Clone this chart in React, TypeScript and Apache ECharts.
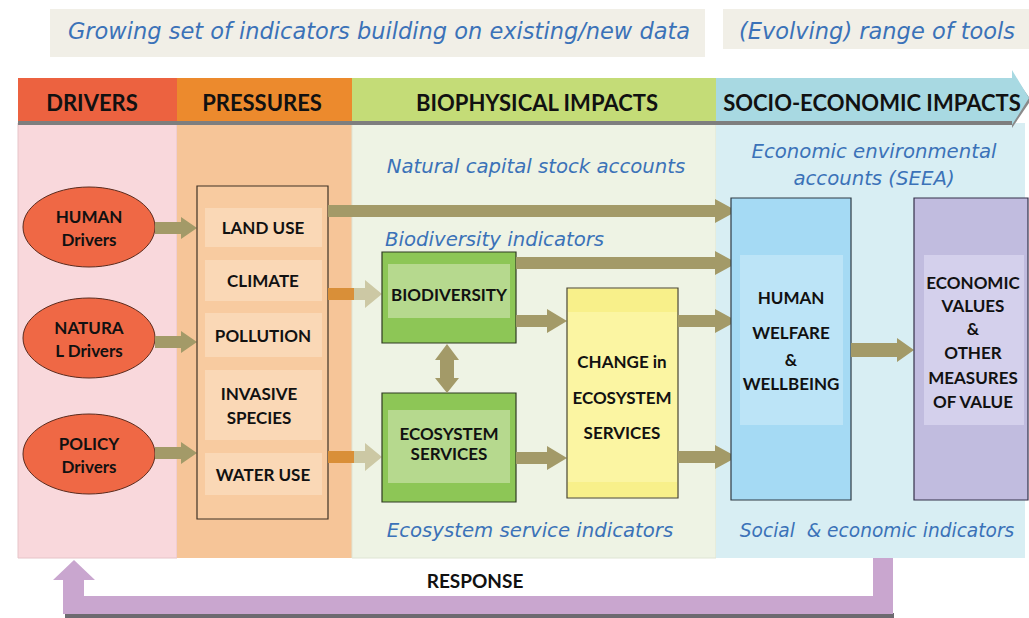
import React, { useEffect, useRef } from "react";
import * as echarts from "echarts";

const bannerTexts = ["Growing set of indicators building on existing/new data", "(Evolving) range of tools"];
const columnHeaders = ["DRIVERS", "PRESSURES", "BIOPHYSICAL IMPACTS", "SOCIO-ECONOMIC IMPACTS"];
const driverLabels = [["HUMAN", "Drivers"], ["NATURA", "L Drivers"], ["POLICY", "Drivers"]];
const pressureLabels = [["LAND USE"], ["CLIMATE"], ["POLLUTION"], ["INVASIVE", "SPECIES"], ["WATER USE"]];
const bioLabels = [["BIODIVERSITY"], ["ECOSYSTEM", "SERVICES"]];
const changeLabel = ["CHANGE in", "ECOSYSTEM", "SERVICES"];
const welfareLabel = ["HUMAN", "WELFARE", "&", "WELLBEING"];
const valueLabel = ["ECONOMIC", "VALUES", "&", "OTHER", "MEASURES", "OF VALUE"];
const indicatorLabels = [
  "Natural capital stock accounts",
  "Biodiversity indicators",
  "Economic environmental",
  "accounts (SEEA)",
  "Ecosystem service indicators",
  "Social  & economic indicators",
];
const responseLabel = "RESPONSE";

const FONT = "Lato, 'Open Sans', sans-serif";
const IFONT = "'DejaVu Sans', sans-serif";
const BLUE = "#3b72b8";
const OLIVE = "#a39a68";

function hArrow(x1: number, x2: number, y: number, h: number, head: number, H: number, fill: string) {
  return {
    type: "polygon",
    shape: {
      points: [
        [x1, y - h], [x2 - head, y - h], [x2 - head, y - H], [x2, y],
        [x2 - head, y + H], [x2 - head, y + h], [x1, y + h],
      ],
    },
    style: { fill },
  };
}

function txt(x: number, y: number, text: string, size: number, opts: any = {}) {
  return {
    type: "text",
    x, y,
    style: {
      text,
      fill: opts.fill || "#111",
      font: `${opts.italic ? "italic " : ""}${opts.bold === false ? "normal" : "bold"} ${size}px ${opts.italic ? IFONT : FONT}`,
      textAlign: opts.align || "center",
      textVerticalAlign: "middle",
    },
  };
}

function itxt(x: number, y: number, text: string, size: number, align = "center") {
  return txt(x, y, text, size, { italic: true, bold: false, fill: BLUE, align });
}

function lines(cx: number, ys: number[], arr: string[], size: number) {
  return arr.map((t, i) => txt(cx, ys[i], t, size));
}

export default function App() {
  const ref = useRef<HTMLDivElement>(null);
  useEffect(() => {
    const chart = echarts.init(ref.current!, null, { renderer: "svg" });
    const g: any[] = [];
    // banners
    g.push({ type: "rect", shape: { x: 50, y: 9, width: 655, height: 48 }, style: { fill: "#f1efe7" } });
    g.push({ type: "rect", shape: { x: 723, y: 9, width: 306, height: 40 }, style: { fill: "#f1efe7" } });
    g.push(itxt(379, 31, bannerTexts[0], 22.5));
    g.push(itxt(877, 31, bannerTexts[1], 22.5));

    // column bodies
    g.push({ type: "rect", shape: { x: 18, y: 123, width: 159, height: 435 }, style: { fill: "#f9d8dc", stroke: "#e6c4c8", lineWidth: 1 } });
    g.push({ type: "rect", shape: { x: 177, y: 123, width: 175, height: 435 }, style: { fill: "#f6c598" } });
    g.push({ type: "rect", shape: { x: 352, y: 123, width: 364, height: 435 }, style: { fill: "#eef3e4", stroke: "#dfe4d4", lineWidth: 1 } });
    g.push({ type: "rect", shape: { x: 716, y: 123, width: 309, height: 435 }, style: { fill: "#d8eef3" } });

    // header shadow
    g.push({ type: "polygon", shape: { points: [[18, 120], [1012, 120], [1012, 125], [18, 125]] }, style: { fill: "#7e7e7e" } });
    g.push({ type: "polygon", shape: { points: [[1012, 73], [1031, 100], [1012, 128]] }, style: { fill: "#8a8a8a" } });
    // header band
    g.push({ type: "rect", shape: { x: 18, y: 78, width: 159, height: 43 }, style: { fill: "#ec6240" } });
    g.push({ type: "rect", shape: { x: 177, y: 78, width: 175, height: 43 }, style: { fill: "#ec8a2d" } });
    g.push({ type: "rect", shape: { x: 352, y: 78, width: 364, height: 43 }, style: { fill: "#c4dc77" } });
    g.push({ type: "polygon", shape: { points: [[716, 78], [1012, 78], [1012, 70], [1029, 98], [1012, 125], [1012, 121], [716, 121]] }, style: { fill: "#a8d9e2" } });
    g.push(txt(92, 102, columnHeaders[0], 22));
    g.push(txt(262, 102, columnHeaders[1], 22));
    g.push(txt(537, 102, columnHeaders[2], 22));
    g.push(txt(872, 102, columnHeaders[3], 22));

    // drivers ellipses
    const ellY = [227, 338, 454];
    driverLabels.forEach((lab, i) => {
      g.push({ type: "ellipse", shape: { cx: 89, cy: ellY[i], rx: 66, ry: 40 }, style: { fill: "#ef6845", stroke: "#5b2b1e", lineWidth: 1 } });
      g.push(txt(89, ellY[i] - 11, lab[0], 17));
      g.push(txt(89, ellY[i] + 12, lab[1], 17));
    });
    const drvArrowY = [228, 342, 453];
    drvArrowY.forEach((y) => g.push(hArrow(155, 197, y, 6, 16, 11, OLIVE)));

    // pressures box
    g.push({ type: "rect", shape: { x: 197, y: 186, width: 131, height: 333 }, style: { fill: "#f8cba0", stroke: "#3f3225", lineWidth: 1.2 } });
    const cells = [[208, 247], [260, 301], [313, 357], [370, 440], [453, 495]];
    cells.forEach((c, i) => {
      g.push({ type: "rect", shape: { x: 205, y: c[0], width: 117, height: c[1] - c[0] }, style: { fill: "#fad8b6" } });
      const cy = (c[0] + c[1]) / 2;
      const lab = pressureLabels[i];
      if (lab.length === 1) g.push(txt(263, cy, lab[0], 17));
      else { g.push(txt(259, cy - 12, lab[0], 17)); g.push(txt(259, cy + 12, lab[1], 17)); }
    });

    // land use long arrow
    g.push(hArrow(328, 737, 211, 6, 22, 12, OLIVE));
    // climate / water arrows (orange then light khaki)
    [294, 457].forEach((y) => {
      g.push({ type: "rect", shape: { x: 328, y: y - 6, width: 26, height: 12 }, style: { fill: "#d98f38" } });
      g.push(hArrow(354, 382, y, 6, 17, 14, "#ccc8a4"));
    });

    // biophysical indicator labels
    g.push(itxt(536, 166, indicatorLabels[0], 19.7));
    g.push(itxt(385, 239, indicatorLabels[1], 19.7, "left"));

    // bio boxes
    g.push({ type: "rect", shape: { x: 382, y: 252, width: 134, height: 91 }, style: { fill: "#8dc656", stroke: "#2f3a22", lineWidth: 1.2 } });
    g.push({ type: "rect", shape: { x: 388, y: 264, width: 122, height: 54 }, style: { fill: "#b6d98e" } });
    g.push(txt(449, 294, bioLabels[0][0], 17));
    g.push({ type: "rect", shape: { x: 382, y: 393, width: 134, height: 109 }, style: { fill: "#8dc656", stroke: "#2f3a22", lineWidth: 1.2 } });
    g.push({ type: "rect", shape: { x: 388, y: 410, width: 122, height: 73 }, style: { fill: "#b6d98e" } });
    g.push(txt(449, 433, bioLabels[1][0], 17));
    g.push(txt(449, 453, bioLabels[1][1], 17));

    // double arrow
    g.push({
      type: "polygon",
      shape: { points: [[447, 344], [459, 360], [454, 360], [454, 378], [459, 378], [447, 393], [435, 378], [440, 378], [440, 360], [435, 360]] },
      style: { fill: OLIVE },
    });

    // bio arrows
    g.push(hArrow(516, 737, 263, 6, 22, 12, OLIVE));
    g.push(hArrow(516, 567, 321, 6, 20, 12, OLIVE));
    g.push(hArrow(516, 567, 458, 6, 20, 12, OLIVE));

    // change box
    g.push({ type: "rect", shape: { x: 567, y: 288, width: 111, height: 210 }, style: { fill: "#fbf5a2", stroke: "#4a4630", lineWidth: 1.2 } });
    g.push({ type: "rect", shape: { x: 568, y: 289, width: 109, height: 23 }, style: { fill: "#f8f08a" } });
    g.push({ type: "rect", shape: { x: 568, y: 482, width: 109, height: 15 }, style: { fill: "#f8f08a" } });
    g.push(...lines(622, [361, 397, 432], changeLabel, 17));

    g.push(hArrow(678, 737, 321, 6, 22, 12, OLIVE));
    g.push(hArrow(678, 737, 457, 6, 22, 12, OLIVE));

    // socio labels
    g.push(itxt(874, 151, indicatorLabels[2], 19.7));
    g.push(itxt(874, 178, indicatorLabels[3], 19.7));
    g.push(itxt(530, 530, indicatorLabels[4], 19.7));
    g.push(itxt(877, 530, indicatorLabels[5], 18.6));

    // welfare box
    g.push({ type: "rect", shape: { x: 731, y: 198, width: 120, height: 302 }, style: { fill: "#a5daf4", stroke: "#2e3a44", lineWidth: 1.2 } });
    g.push({ type: "rect", shape: { x: 740, y: 255, width: 103, height: 170 }, style: { fill: "#bce4f7" } });
    g.push(...lines(791, [297, 332, 359, 383], welfareLabel, 17));

    g.push(hArrow(851, 914, 350, 7, 17, 12, OLIVE));

    // economic box
    g.push({ type: "rect", shape: { x: 914, y: 198, width: 114, height: 302 }, style: { fill: "#c1bcdf", stroke: "#34304a", lineWidth: 1.2 } });
    g.push({ type: "rect", shape: { x: 924, y: 255, width: 100, height: 170 }, style: { fill: "#d4d0ec" } });
    g.push(...lines(973, [282, 305, 328, 352, 377, 401], valueLabel, 17));

    // response arrow
    g.push({ type: "rect", shape: { x: 65, y: 613, width: 829, height: 5 }, style: { fill: "#6d6a70" } });
    g.push({
      type: "polygon",
      shape: { points: [[873, 558], [893, 558], [893, 614], [63, 614], [63, 580], [53, 580], [74, 560], [95, 580], [84, 580], [84, 596], [873, 596]] },
      style: { fill: "#c9a6cf" },
    });
    g.push(txt(475, 580, responseLabel, 19));

    chart.setOption({ animation: false, graphic: g });
    return () => chart.dispose();
  }, []);
  return <div ref={ref} style={{ position: "fixed", left: 0, top: 0, width: 1029, height: 618, background: "#fff" }} />;
}
